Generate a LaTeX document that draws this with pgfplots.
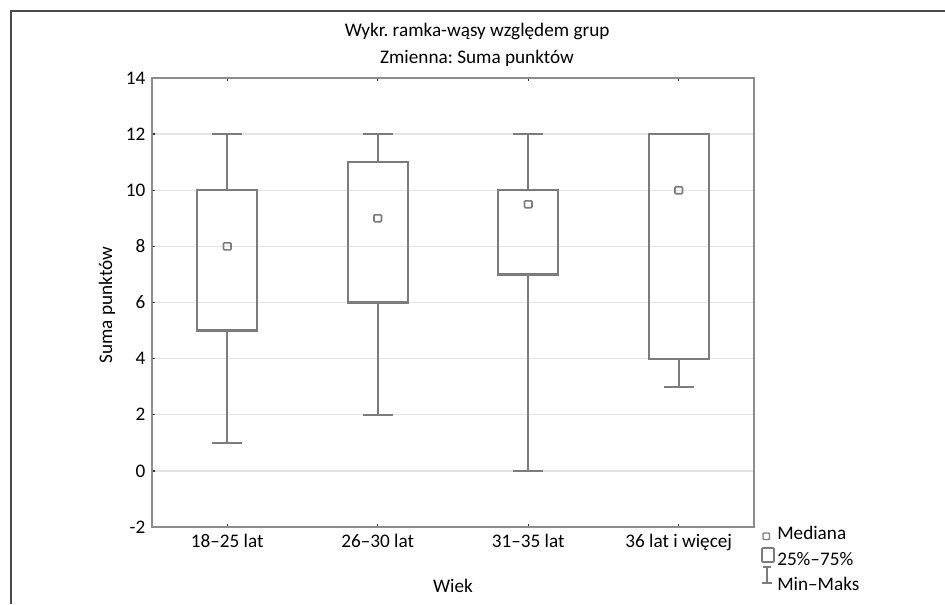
\documentclass[border=0pt]{standalone}
\usepackage{fontspec}
\setmainfont{Carlito}
\usepackage{pgfplots}
\pgfplotsset{compat=1.18}
\usepgfplotslibrary{statistics}
\frenchspacing

\definecolor{boxcol}{HTML}{7C7C7C}
\definecolor{axiscol}{HTML}{8C8C8C}
\definecolor{gridcol}{HTML}{E4E4E4}
\definecolor{framecol}{HTML}{4A4A4A}

% pixel position of the reference (945 x 604, y down) -> picture point
\newcommand\px[2]{({(#1)*0.75pt},{(604-(#2))*0.75pt})}

\begin{document}
\fontsize{14.4}{18}\selectfont
\begin{tikzpicture}
\path[use as bounding box] (0,0) rectangle (708.75pt,453pt);

% frame round the whole chart (cut off at right and bottom)
\draw[framecol, line width=1.5pt] \px{11}{604} -- \px{11}{11} -- \px{945}{11};

\begin{axis}[
    at={(114pt,57.75pt)}, anchor=south west,
    scale only axis,
    width=451.5pt, height=336.75pt,
    xmin=-0.5, xmax=3.5,
    ymin=-2, ymax=14,
    xtick={0,1,2,3},
    xticklabels={18--25 lat, 26--30 lat, 31--35 lat, 36 lat i więcej},
    ytick={-2,0,2,4,6,8,10,12,14},
    /pgf/number format/assume math mode=true,
    xtick pos=both, ytick pos=left,
    tick align=inside,
    major tick length=2pt,
    tick style={black!80, line width=1pt},
    axis line style={axiscol, line width=2pt},
    ymajorgrids,
    grid style={gridcol, line width=1pt},
    title={Wykr. ramka-wąsy względem grup\\Zmienna: Suma punktów},
    title style={at={(axis description cs:0.54,1.055)}, anchor=center,
                 align=center, font=\fontsize{14.4}{20.25}\selectfont},
    xlabel={Wiek},
    xlabel style={at={(axis description cs:0.5,-0.131)}, anchor=center},
    ylabel={Suma punktów},
    ylabel style={at={(axis description cs:-0.0748,0.494)}, anchor=center},
    boxplot/draw direction=y,
    boxplot/box extend=0.4,
    boxplot/whisker extend=0.2,
    boxplot/draw/median/.code={%
      \draw[boxcol, line width=1.2pt, rounded corners=0.7pt]
        (boxplot box cs:\pgfplotsboxplotvalue{median},0.5)
        ++(-2.8pt,-2.6pt) rectangle ++(5.6pt,5.2pt);},
  ]
  \addplot[boxcol, line width=1.6pt, boxplot prepared={draw position=0,
      median=8, lower quartile=5, upper quartile=10,
      lower whisker=1, upper whisker=12}] coordinates {};
  \addplot[boxcol, line width=1.6pt, boxplot prepared={draw position=1,
      median=9, lower quartile=6, upper quartile=11,
      lower whisker=2, upper whisker=12}] coordinates {};
  \addplot[boxcol, line width=1.6pt, boxplot prepared={draw position=2,
      median=9.5, lower quartile=7, upper quartile=10,
      lower whisker=0, upper whisker=12}] coordinates {};
  \addplot[boxcol, line width=1.6pt, boxplot prepared={draw position=3,
      median=10, lower quartile=4, upper quartile=12,
      lower whisker=3, upper whisker=12}] coordinates {};
\end{axis}

% legend
\draw[boxcol, line width=1.1pt, rounded corners=0.6pt]
  \px{763}{533} rectangle \px{769.5}{539.5};
\draw[boxcol, line width=1.2pt, rounded corners=0.6pt]
  \px{762}{548} rectangle \px{774}{562};
\draw[boxcol, line width=1.2pt]
  \px{763}{567} -- \px{771}{567}
  \px{767}{567} -- \px{767}{583}
  \px{762}{583} -- \px{772}{583};
\node[anchor=base west, inner sep=0pt] at \px{777}{539} {Mediana};
\node[anchor=base west, inner sep=0pt] at \px{777}{565} {25\%--75\%};
\node[anchor=base west, inner sep=0pt] at \px{777}{590} {Min--Maks};
\end{tikzpicture}
\end{document}
